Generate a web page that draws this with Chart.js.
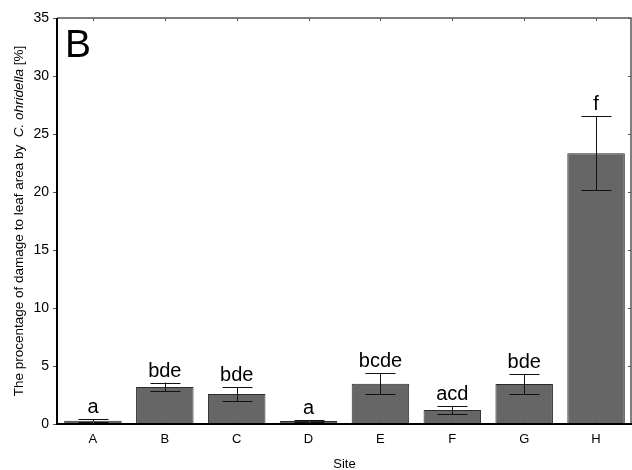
<!DOCTYPE html>
<html>
<head>
<meta charset="utf-8">
<script src="https://cdn.jsdelivr.net/npm/chart.js@4.4.1/dist/chart.umd.min.js"></script>
<style>
  html, body { margin: 0; padding: 0; background: #fff; }
  #wrap { width: 632px; height: 470px; }
</style>
</head>
<body>
<div id="wrap"><canvas id="c" width="632" height="470"></canvas></div>
<script>
// Mean leaf-area damage per site, with error half-widths and group letters
const sites = ['A', 'B', 'C', 'D', 'E', 'F', 'G', 'H'];
const damage = [0.28, 3.2, 2.58, 0.25, 3.47, 1.21, 3.45, 23.35];
const errors = [0.12, 0.37, 0.6, 0.1, 0.92, 0.36, 0.86, 3.17];
const groups = ['a', 'bde', 'bde', 'a', 'bcde', 'acd', 'bde', 'f'];
const yTicks = [0, 5, 10, 15, 20, 25, 30, 35];

const FONT = '"Liberation Sans", Arial, sans-serif';

// Frame, ticks, error bars, group letters, panel letter and axis titles
const decorations = {
  id: 'decorations',
  afterDatasetsDraw(chart) {
    const { ctx, chartArea: a, scales: { x, y } } = chart;
    ctx.save();

    // error bars
    ctx.strokeStyle = '#111';
    ctx.lineWidth = 1;
    damage.forEach((v, i) => {
      const cx = Math.round(x.getPixelForValue(i)) + 0.5;
      const top = y.getPixelForValue(v + errors[i]);
      const bot = y.getPixelForValue(v - errors[i]);
      ctx.beginPath();
      ctx.moveTo(cx, top); ctx.lineTo(cx, bot);
      ctx.moveTo(cx - 15, Math.round(top) + 0.5); ctx.lineTo(cx + 15, Math.round(top) + 0.5);
      ctx.moveTo(cx - 15, Math.round(bot) + 0.5); ctx.lineTo(cx + 15, Math.round(bot) + 0.5);
      ctx.stroke();
    });

    // group letters above the error bars
    ctx.fillStyle = '#000';
    ctx.font = '20px ' + FONT;
    ctx.textAlign = 'center';
    ctx.textBaseline = 'alphabetic';
    groups.forEach((g, i) => {
      const cx = x.getPixelForValue(i);
      const top = y.getPixelForValue(damage[i] + errors[i]);
      ctx.fillText(g, cx, top - 6);
    });

    // top and right border (grey, thinner)
    ctx.strokeStyle = '#555';
    ctx.lineWidth = 1.5;
    ctx.beginPath();
    ctx.moveTo(a.left, a.top); ctx.lineTo(a.right - 1, a.top); ctx.lineTo(a.right - 1, a.bottom);
    ctx.stroke();

    // short ticks on all four sides
    ctx.lineWidth = 1;
    ctx.beginPath();
    sites.forEach((s, i) => {
      const cx = Math.round(x.getPixelForValue(i)) + 0.5;
      ctx.moveTo(cx, a.top); ctx.lineTo(cx, a.top + 3);
      ctx.moveTo(cx, a.bottom); ctx.lineTo(cx, a.bottom - 3);
    });
    yTicks.forEach(t => {
      const py = Math.round(y.getPixelForValue(t)) + 0.5;
      ctx.moveTo(a.right - 1, py); ctx.lineTo(a.right - 4, py);
      ctx.moveTo(a.left, py); ctx.lineTo(a.left - 4, py);
    });
    ctx.stroke();

    // left and bottom axes (black, heavier)
    ctx.strokeStyle = '#000';
    ctx.lineWidth = 2;
    ctx.beginPath();
    ctx.moveTo(a.left, a.top); ctx.lineTo(a.left, a.bottom); ctx.lineTo(a.right, a.bottom);
    ctx.stroke();

    // panel letter
    ctx.font = '39px ' + FONT;
    ctx.textAlign = 'left';
    ctx.fillText('B', a.left + 8, a.top + 39);

    // x-axis title
    ctx.font = '13px ' + FONT;
    ctx.textAlign = 'center';
    ctx.textBaseline = 'middle';
    ctx.fillText('Site', (a.left + a.right) / 2, 464);

    // y-axis title with italic species name
    const size = 13.5;
    const plain1 = 'The procentage of damage to leaf area by  ';
    const ital = 'C. ohridella';
    const plain2 = ' [%]';
    ctx.font = size + 'px ' + FONT;
    const w1 = ctx.measureText(plain1).width;
    const w3 = ctx.measureText(plain2).width;
    ctx.font = 'italic ' + size + 'px ' + FONT;
    const w2 = ctx.measureText(ital).width;
    const total = w1 + w2 + w3;
    ctx.translate(19, (a.top + a.bottom) / 2);
    ctx.rotate(-Math.PI / 2);
    ctx.textAlign = 'left';
    ctx.textBaseline = 'middle';
    let px = -total / 2;
    ctx.font = size + 'px ' + FONT;
    ctx.fillText(plain1, px, 0); px += w1;
    ctx.font = 'italic ' + size + 'px ' + FONT;
    ctx.fillText(ital, px, 0); px += w2;
    ctx.font = size + 'px ' + FONT;
    ctx.fillText(plain2, px, 0);

    ctx.restore();
  }
};

new Chart(document.getElementById('c'), {
  type: 'bar',
  data: {
    labels: sites,
    datasets: [{
      data: damage,
      backgroundColor: '#666666',
      borderColor: '#2a2a2a',
      borderWidth: 1,
      categoryPercentage: 1,
      barPercentage: 0.8
    }]
  },
  options: {
    responsive: false,
    animation: false,
    devicePixelRatio: 1,
    layout: { padding: { top: 18, right: 0, left: 0, bottom: 0 } },
    plugins: { legend: { display: false }, tooltip: { enabled: false } },
    scales: {
      x: {
        grid: { display: false },
        border: { display: false },
        ticks: { color: '#000', font: { family: FONT, size: 13 }, padding: 0 },
        afterFit(s) { s.height = 46; }
      },
      y: {
        min: 0, max: 35,
        grid: { display: false },
        border: { display: false },
        afterBuildTicks(s) { s.ticks = yTicks.map(v => ({ value: v })); },
        ticks: { color: '#000', font: { family: FONT, size: 14 }, padding: 0 },
        afterFit(s) { s.width = 57; }
      }
    }
  },
  plugins: [decorations]
});
</script>
</body>
</html>
